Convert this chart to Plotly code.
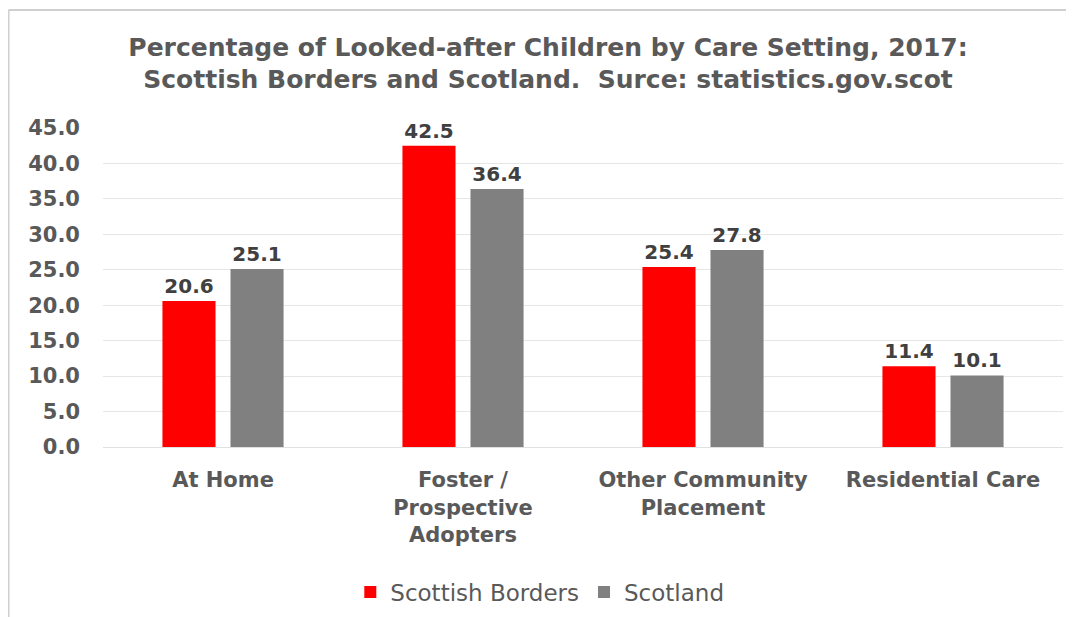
import plotly.graph_objects as go

categories = ["At Home", "Foster /<br>Prospective<br>Adopters", "Other Community<br>Placement", "Residential Care"]
borders = [20.6, 42.5, 25.4, 11.4]
scotland = [25.1, 36.4, 27.8, 10.1]
tick_vals = [0, 5, 10, 15, 20, 25, 30, 35, 40, 45]

FONT = "DejaVu Sans"
TXT = "#595959"

fig = go.Figure()
fig.add_trace(go.Bar(
    name="Scottish Borders", x=categories, y=borders,
    marker=dict(color="#FF0000", line=dict(width=0)),
    text=[f"{v:.1f}" for v in borders], textposition="outside",
    textfont=dict(family=FONT, size=20, color="#404040", weight="bold"),
    cliponaxis=False,
))
fig.add_trace(go.Bar(
    name="Scotland", x=categories, y=scotland,
    marker=dict(color="#808080", line=dict(width=0)),
    text=[f"{v:.1f}" for v in scotland], textposition="outside",
    textfont=dict(family=FONT, size=20, color="#404040", weight="bold"),
    cliponaxis=False,
))

fig.update_layout(
    width=1066, height=609, autosize=False,
    paper_bgcolor="white", plot_bgcolor="white",
    margin=dict(l=95, r=11, t=120, b=170, autoexpand=False),
    barmode="group", bargap=0.433, bargroupgap=0.22,
    title=dict(
        text="Percentage of Looked-after Children by Care Setting, 2017:<br>Scottish Borders and Scotland.  Surce: statistics.gov.scot",
        x=0.5066, xref="container", xanchor="center", y=0.922, yanchor="top",
        font=dict(family=FONT, size=25, color=TXT, weight="bold"),
    ),
    font=dict(family=FONT, color=TXT),
    legend=dict(
        orientation="h", x=0.455, xanchor="center", y=-0.455, yanchor="middle",
        font=dict(family=FONT, size=23, color=TXT),
        itemsizing="constant", traceorder="normal",
    ),
    showlegend=True,
    xaxis=dict(
        showgrid=False, showline=True, linecolor="#E0E0E0", linewidth=1,
        tickfont=dict(family=FONT, size=21, color=TXT, weight="bold"),
        ticks="", ticklabelstandoff=14, automargin=False,
    ),
    yaxis=dict(
        range=[0, 45], tickvals=tick_vals, tickformat=".1f",
        showgrid=True, gridcolor="#E6E6E6", gridwidth=1,
        zeroline=False, showline=False, ticks="",
        tickfont=dict(family=FONT, size=21, color=TXT, weight="bold"),
        ticklabelstandoff=22, automargin=False,
    ),
    shapes=[
        dict(type="line", xref="paper", yref="paper", x0=-0.0984, x1=1.02, y0=1.37, y1=1.37,
             line=dict(color="#D0D0D0", width=2)),
        dict(type="line", xref="paper", yref="paper", x0=-0.0984, x1=-0.0984, y0=1.37, y1=-0.6,
             line=dict(color="#D0D0D0", width=2)),
    ],
)

fig.write_html("out.html")
